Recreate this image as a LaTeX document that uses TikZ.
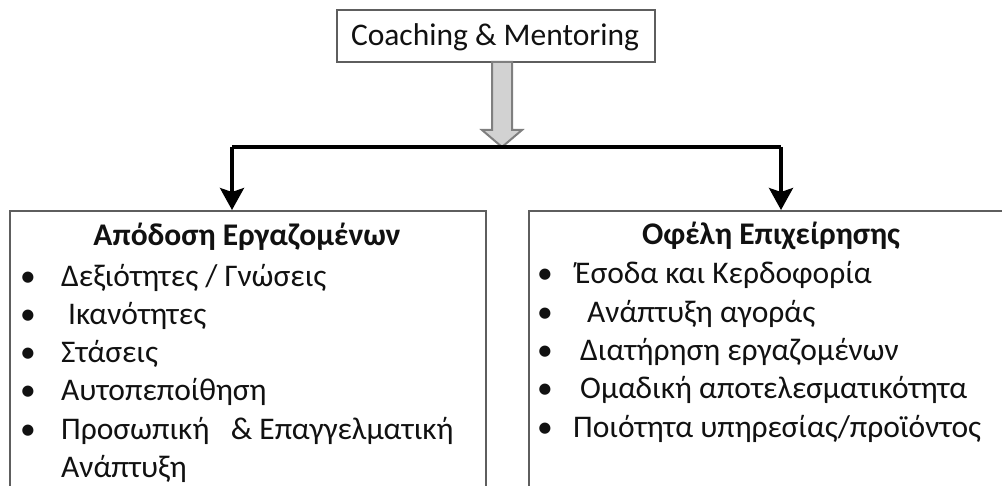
\documentclass[tikz,border=0pt]{standalone}
\usepackage{fontspec}
\setmainfont{Carlito}
\usetikzlibrary{arrows.meta,positioning}
\definecolor{frame}{HTML}{5E5E5E}
\definecolor{blockfill}{HTML}{D2D2D2}
\definecolor{blockline}{HTML}{7F7F7F}
\definecolor{ink}{HTML}{111111}

\tikzset{
  panel/.style={draw=frame,line width=1.6pt,inner sep=0pt},
  txt/.style={ink,inner sep=0pt,font=\fontsize{31.5}{38}\selectfont},
  head/.style={txt,anchor=base,font=\fontsize{31.5}{38}\selectfont\bfseries},
  link/.style={line width=3.4pt,black},
  tip/.style={-{Stealth[length=22pt,width=24pt,inset=4pt]}}
}

\begin{document}
\begin{tikzpicture}[x=1pt,y=-1pt]
  \useasboundingbox (0,0) rectangle (1002,486);
  \clip (0,0) rectangle (1002,486);
  % top box and block arrow
  \node[panel,minimum width=318pt,minimum height=52pt] (coach) at (496,36) {};
  \node[txt,anchor=base] (coachtxt) at (495,46) {Coaching \& Mentoring};
  \coordinate (hub) at (502,147);
  \filldraw[blockline,fill=blockfill,line width=2pt,line join=miter]
    (hub) -- ++(-20,-17) -- ++(10,0) -- ++(0,-68) -- ++(20,0) -- ++(0,68) -- ++(10,0) -- cycle;
  % the two panels
  \node[panel,anchor=north west,minimum width=476pt,minimum height=290pt] (staff) at (9,210) {};
  \node[panel,anchor=north west,minimum width=487pt,minimum height=290pt] (firm) at (528,210) {};
  % connectors
  \coordinate (lcorner) at (232,147);
  \coordinate (rcorner) at (781,147);
  \draw[link] (lcorner) -- (rcorner);
  \draw[link,tip] (lcorner) -- (lcorner |- staff.north);
  \draw[link,tip] (rcorner) -- (rcorner |- firm.north);
  % left list
  \node[head] (stafftitle) at (247,246) {Απόδοση Εργαζομένων};
  \foreach \x/\y/\t [count=\k] in {61/287/{Δεξιότητες / Γνώσεις},68/325/Ικανότητες,61/363/Στάσεις,
      61/401/Αυτοπεποίθηση,61/439/{Προσωπική\ \ \ \& Επαγγελματική}}{
    \node[txt,anchor=base] (sb\k) at (28,\y) {•};
    \node[txt,anchor=base west] (si\k) at (\x,\y) {\t};
  }
  \node[txt,anchor=base west] (si6) at (61,477) {Ανάπτυξη};
  % right list
  \node[head] (firmtitle) at (771,245) {Οφέλη Επιχείρησης};
  \foreach \x/\y/\t [count=\k] in {575/284/Έσοδα και Κερδοφορία,587/323/Ανάπτυξη αγοράς,
      580/361/Διατήρηση εργαζομένων,580/399/Ομαδική αποτελεσματικότητα,573/438/{Ποιότητα υπηρεσίας/προϊόντος}}{
    \node[txt,anchor=base] (fb\k) at (545,\y) {•};
    \node[txt,anchor=base west] (fi\k) at (\x,\y) {\t};
  }
\end{tikzpicture}
\end{document}
